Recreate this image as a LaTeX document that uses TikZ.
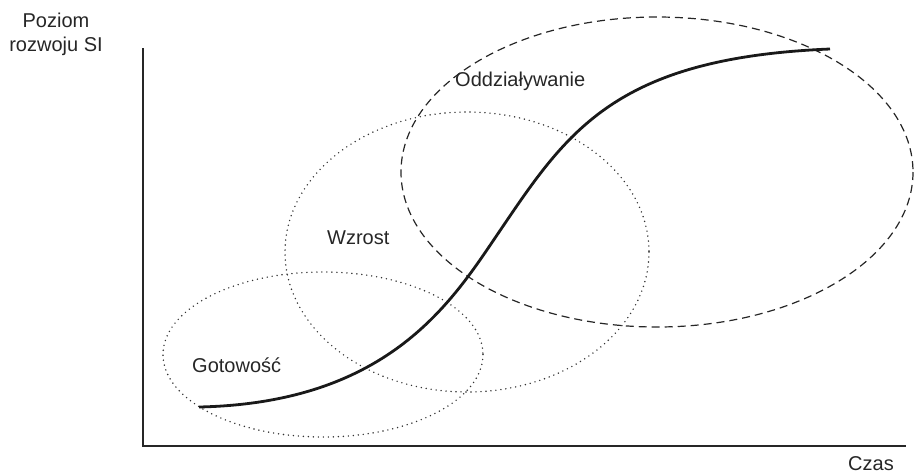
\documentclass[tikz,border=0pt]{standalone}
\usepackage{fontspec}
\setmainfont{Liberation Sans}
\begin{document}
\begin{tikzpicture}[x=1pt,y=-1pt,
  lbl/.style={inner sep=0pt,text=black!85,font=\fontsize{20}{24}\selectfont},
  axisline/.style={line width=1.3pt,draw=black!85},
  dottedell/.style={line width=1.6pt,draw=black!80,line cap=round,dash pattern=on 0pt off 5pt},
  dashedell/.style={line width=1.2pt,draw=black!85,dash pattern=on 8pt off 5pt},
  scurve/.style={line width=2.8pt,draw=black!90,line cap=butt}]
\useasboundingbox (0,0) rectangle (915,475);
% axes
\coordinate (ytop) at (143,48);
\coordinate (orig) at (143,446);
\coordinate (xend) at (906,446);
\draw[axisline] (ytop) -- (orig) -- (xend);
% ellipses
\draw[dottedell] (323,354.5) ellipse [x radius=160, y radius=82.5];
\draw[dottedell] (467,252) ellipse [x radius=182, y radius=140];
\draw[dashedell] (657,172) ellipse [x radius=256, y radius=155];
% S-curve
\coordinate (c0) at (199,407);
\coordinate (c1) at (495,238);
\coordinate (c2) at (830,49);
\draw[scurve] (c0) .. controls (385,403) and (449,306) .. (c1)
  .. controls (565,135) and (610,58) .. (c2);
% labels
\node[lbl,anchor=base] (poz1) at (56,27) {Poziom};
\node[lbl,anchor=base] (poz2) at (56,51) {rozwoju SI};
\node[lbl,anchor=base west] (czas) at (848,470) {Czas};
\node[lbl,anchor=base west] (got) at (192,372) {Gotowość};
\node[lbl,anchor=base west] (wzr) at (327,244) {Wzrost};
\node[lbl,anchor=base west] (odd) at (455,86) {Oddziaływanie};
\end{tikzpicture}
\end{document}
